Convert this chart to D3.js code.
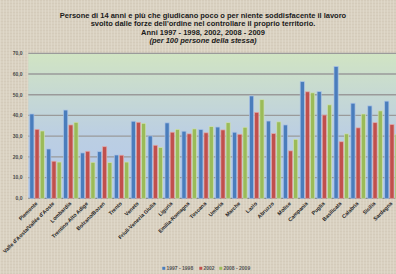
<!DOCTYPE html>
<html>
<head>
  <meta charset="UTF-8">
  <title>Soddisfazione forze dell'ordine</title>
  <script src="https://cdn.jsdelivr.net/npm/d3@7"></script>
  <style>
    body { margin: 0; background: #d8cfbe; }
    svg { display: block; font-family: "Liberation Sans", Arial, sans-serif; }
  </style>
</head>
<body>
<svg></svg>
<script>
  let width = 396, height = 274;

  // data
  const regions = ["Piemonte", "Valle d'Aosta/Vallée d'Aoste", "Lombardia", "Trentino-Alto Adige",
    "Bolzano/Bozen", "Trento", "Veneto", "Friuli-Venezia Giulia", "Liguria", "Emilia-Romagna",
    "Toscana", "Umbria", "Marche", "Lazio", "Abruzzo", "Molise", "Campania", "Puglia",
    "Basilicata", "Calabria", "Sicilia", "Sardegna"];
  const series = ["1997 - 1998", "2002", "2008 - 2009"];
  const v1997 = [40.7, 23.8, 42.6, 21.9, 22.5, 20.9, 37.2, 30.1, 36.4, 32.4, 33.2, 34.4, 31.9, 49.4, 37.3, 35.4, 56.3, 51.5, 63.6, 45.9, 44.6, 46.9];
  const v2002 = [33.3, 17.9, 35.4, 22.7, 24.9, 20.8, 36.7, 25.6, 31.9, 31.1, 31.6, 33.0, 30.9, 41.5, 31.2, 22.9, 51.4, 40.2, 27.3, 34.0, 36.5, 35.6];
  const v2008 = [32.5, 17.5, 36.7, 17.4, 17.2, 17.5, 36.2, 24.5, 33.3, 33.5, 34.6, 36.5, 34.3, 47.6, 36.9, 28.5, 50.9, 45.1, 31.1, 40.7, 42.2, 30.9];
  const yTicks = [0, 10, 20, 30, 40, 50, 60, 70];
  const colors = ["#4a7dbc", "#c0504d", "#9bbb59"];
  const edges = ["#a9c2e6", "#e3a9a8", "#cfe0b2"];

  const titleLines = [
    "Persone di 14 anni e più che giudicano poco o per niente soddisfacente il lavoro",
    "svolto dalle forze dell'ordine nel controllare il proprio territorio.",
    "Anni 1997 - 1998, 2002, 2008 - 2009",
    "(per 100 persone della stessa)"
  ];

  let svg = d3.select("svg").attr("width", width).attr("height", height);

  // linen-like background
  let defs = svg.append("defs");
  let pat = defs.append("pattern").attr("id", "linen")
    .attr("width", 3).attr("height", 3).attr("patternUnits", "userSpaceOnUse");
  pat.append("rect").attr("width", 3).attr("height", 3).attr("fill", "#d9d1c1");
  pat.append("rect").attr("width", 3).attr("height", 1).attr("fill", "#d0c7b5").attr("opacity", 0.6);
  pat.append("rect").attr("width", 1).attr("height", 3).attr("fill", "#e3dccf").attr("opacity", 0.6);
  svg.append("rect").attr("width", width).attr("height", height).attr("fill", "url(#linen)");

  let grad = defs.append("linearGradient").attr("id", "plotbg")
    .attr("x1", 0).attr("y1", 0).attr("x2", 0).attr("y2", 1);
  grad.append("stop").attr("offset", "0%").attr("stop-color", "#d1e4c3");
  grad.append("stop").attr("offset", "55%").attr("stop-color", "#bccfe2");
  grad.append("stop").attr("offset", "100%").attr("stop-color", "#b3c9ec");

  let x0 = d3.scaleBand().domain(regions).range([28.3, 400.1]);
  let x1 = d3.scaleBand().domain(series).range([1.5, 16]).paddingInner(0.2);
  let y = d3.scaleLinear().domain([0, 70]).range([198.3, 53.3]);

  // plot area
  svg.append("rect")
    .attr("x", x0.range()[0]).attr("y", y(70))
    .attr("width", x0.range()[1] - x0.range()[0]).attr("height", y(0) - y(70))
    .attr("fill", "url(#plotbg)");

  // gridlines
  svg.append("g").selectAll("line").data(yTicks).enter().append("line")
    .attr("x1", x0.range()[0]).attr("x2", x0.range()[1])
    .attr("y1", d => y(d)).attr("y2", d => y(d))
    .attr("stroke", d => d == 0 ? "#8c8c8c" : "#9a9a9a")
    .attr("stroke-width", 1.3);

  // y tick labels
  svg.append("g").selectAll("text").data(yTicks).enter().append("text")
    .attr("x", 22.5).attr("y", d => y(d) + 1.8)
    .attr("text-anchor", "end")
    .attr("font-size", 5).attr("font-weight", "bold").attr("fill", "#4a4a4a")
    .text(d => d3.format(".1f")(d).replace(".", ","));

  // bars
  let data = regions.map((r, i) => ({region: r, values: [v1997[i], v2002[i], v2008[i]]}));
  let groups = svg.append("g").selectAll("g").data(data).enter().append("g")
    .attr("transform", d => "translate(" + x0(d.region) + ",0)");
  groups.selectAll("rect").data(d => d.values.map((v, k) => ({k: k, v: v}))).enter().append("rect")
    .attr("x", d => x1(series[d.k]))
    .attr("y", d => y(d.v))
    .attr("width", x1.bandwidth())
    .attr("height", d => y(0) - y(d.v))
    .attr("fill", d => colors[d.k])
    .attr("stroke", d => edges[d.k])
    .attr("stroke-width", 0.7);

  // x labels
  svg.append("g").selectAll("text").data(regions).enter().append("text")
    .attr("transform", d => "translate(" + (x0(d) + x0.bandwidth() / 2 + 1) + ",204) rotate(-45)")
    .attr("text-anchor", "end")
    .attr("font-size", 5.3).attr("font-weight", "bold").attr("fill", "#222")
    .text(d => d);

  // title
  svg.append("g").selectAll("text").data(titleLines).enter().append("text")
    .attr("x", 203).attr("y", (d, i) => [18, 26.3, 34.6, 42.8][i])
    .attr("text-anchor", "middle")
    .attr("font-size", 7.5).attr("font-weight", "bold")
    .attr("font-style", (d, i) => i == 3 ? "italic" : "normal")
    .attr("fill", "#1a1a1a")
    .text(d => d);

  // legend
  let legX = [162.3, 199.3, 219.3];
  let leg = svg.append("g").selectAll("g").data(series).enter().append("g")
    .attr("transform", (d, i) => "translate(" + legX[i] + ",270)");
  leg.append("rect").attr("x", 0).attr("y", -3.2).attr("width", 3).attr("height", 3)
    .attr("fill", (d, i) => colors[i]);
  leg.append("text").attr("x", 4.2).attr("y", 0)
    .attr("font-size", 5).attr("font-weight", "bold").attr("fill", "#555")
    .text(d => d);
</script>
</body>
</html>
